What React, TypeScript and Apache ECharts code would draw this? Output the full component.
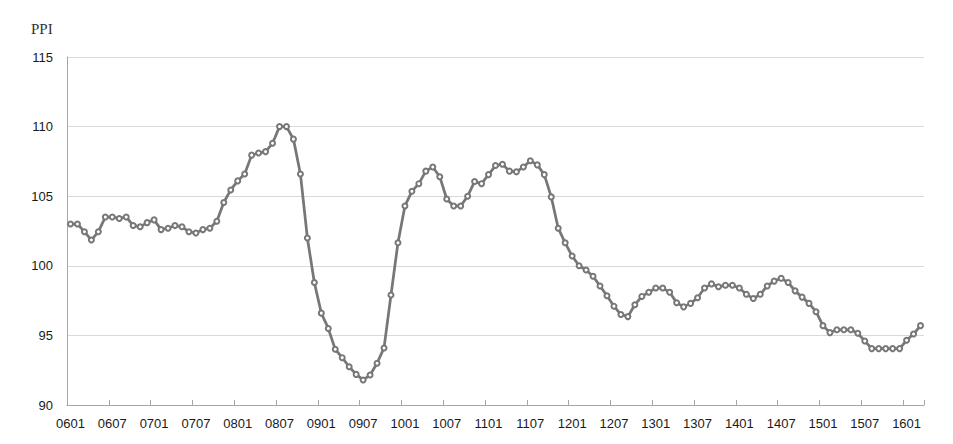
import React, { useEffect, useRef } from "react";
import * as echarts from "echarts";

const years = ["06", "07", "08", "09", "10", "11", "12", "13", "14", "15", "16"];
const months = ["01", "02", "03", "04", "05", "06", "07", "08", "09", "10", "11", "12"];
const categories: string[] = [];
years.forEach((y) => months.forEach((m) => categories.push(y + m)));
categories.splice(123);

const ppi = [
  103.0, 103.0, 102.45, 101.85, 102.45, 103.5, 103.5, 103.4, 103.5, 102.9, 102.8, 103.1,
  103.3, 102.6, 102.7, 102.9, 102.8, 102.45, 102.35, 102.6, 102.7, 103.2, 104.55, 105.45,
  106.1, 106.6, 107.95, 108.1, 108.2, 108.8, 110.0, 110.0, 109.1, 106.6, 102.0, 98.8,
  96.6, 95.5, 94.0, 93.4, 92.75, 92.2, 91.8, 92.15, 93.0, 94.1, 97.9, 101.65,
  104.3, 105.35, 105.9, 106.8, 107.1, 106.4, 104.8, 104.3, 104.3, 105.0, 106.05, 105.9,
  106.55, 107.2, 107.3, 106.8, 106.75, 107.1, 107.55, 107.25, 106.55, 104.95, 102.7, 101.65,
  100.7, 100.0, 99.7, 99.25, 98.55, 97.85, 97.1, 96.5, 96.35, 97.2, 97.8, 98.1,
  98.4, 98.4, 98.1, 97.35, 97.05, 97.3, 97.7, 98.4, 98.7, 98.5, 98.6, 98.6,
  98.4, 97.95, 97.65, 97.95, 98.55, 98.9, 99.1, 98.8, 98.2, 97.75, 97.3, 96.7,
  95.7, 95.2, 95.4, 95.4, 95.4, 95.15, 94.6, 94.05, 94.05, 94.05, 94.05, 94.05,
  94.65, 95.1, 95.7,
];

const yTitle = "PPI";

export default function App() {
  const ref = useRef<HTMLDivElement>(null);
  useEffect(() => {
    if (!ref.current) return;
    document.body.style.margin = "0";
    const chart = echarts.init(ref.current, undefined, { renderer: "svg" });
    chart.setOption({
      animation: false,
      backgroundColor: "#ffffff",
      grid: { left: 67, right: 29, top: 57, bottom: 39, containLabel: false },
      graphic: [
        {
          type: "text",
          left: 31,
          top: 21,
          style: {
            text: yTitle,
            fontFamily: "Liberation Serif",
            fontSize: 15,
            fill: "#333333",
          },
        },
      ],
      xAxis: {
        type: "category",
        data: categories,
        boundaryGap: true,
        axisLine: { show: true, lineStyle: { color: "#a6a6a6", width: 1 } },
        axisTick: {
          show: true,
          inside: true,
          length: 5,
          interval: 5,
          lineStyle: { color: "#a6a6a6" },
        },
        axisLabel: {
          interval: 5,
          margin: 12,
          color: "#1a1a1a",
          fontSize: 13,
          fontFamily: "Liberation Sans",
        },
        splitLine: { show: false },
      },
      yAxis: {
        type: "value",
        min: 90,
        max: 115,
        interval: 5,
        axisLine: { show: true, lineStyle: { color: "#a6a6a6", width: 1 } },
        axisTick: { show: false },
        axisLabel: {
          margin: 14,
          color: "#1a1a1a",
          fontSize: 13,
          fontFamily: "Liberation Sans",
        },
        splitLine: { show: true, lineStyle: { color: "#d9d9d9", width: 1 } },
      },
      series: [
        {
          type: "line",
          data: ppi,
          symbol: "circle",
          symbolSize: 5,
          showAllSymbol: true,
          lineStyle: { color: "#777777", width: 2.75 },
          itemStyle: { color: "#ffffff", borderColor: "#777777", borderWidth: 2 },
        },
      ],
    });
    return () => chart.dispose();
  }, []);
  return <div ref={ref} style={{ width: 953, height: 444, position: "fixed", left: 0, top: 0 }} />;
}
